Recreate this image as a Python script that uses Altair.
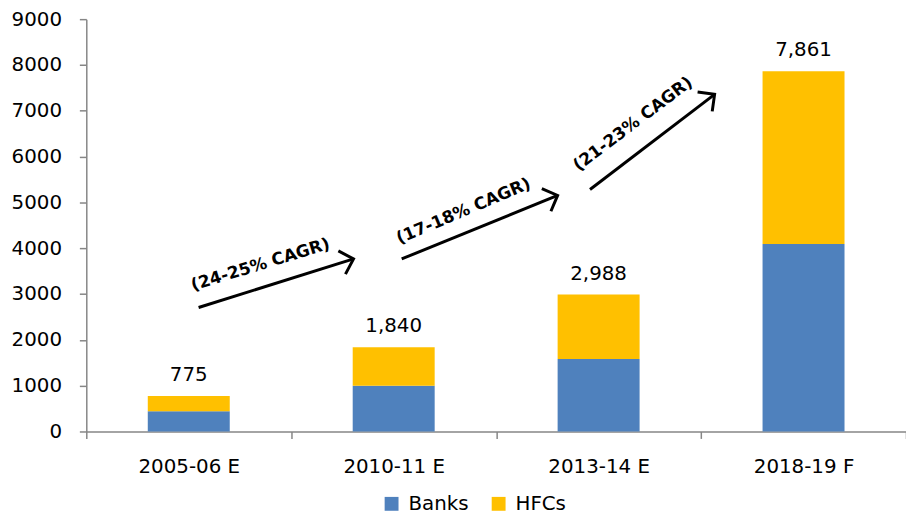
import altair as alt
import pandas as pd

FONT = "DejaVu Sans"

periods = ["2005-06 E", "2010-11 E", "2013-14 E", "2018-19 F"]
banks = [440, 1000, 1580, 4090]
hfcs = [335, 840, 1408, 3771]
totals = [775, 1840, 2988, 7861]
series = ["Banks", "HFCs"]
colors = ["#4F81BD", "#FFC000"]
y_ticks = list(range(0, 9001, 1000))

cagr_labels = ["(24-25% CAGR)", "(17-18% CAGR)", "(21-23% CAGR)"]
# annotation anchors in axis units (x: category steps from the left edge, y: Rs.bn)
arrow_x0 = [0.548, 1.539, 2.458]
arrow_y0 = [2706, 3766, 5281]
arrow_x1 = [1.304, 2.300, 3.066]
arrow_y1 = [3766, 5152, 7359]
arrow_angle = [343, 338, 323]
label_x = [0.850, 1.841, 2.668]
label_y = [3636, 4805, 6710]
label_angle = [343, 337, 323]

rows = []
for i, p in enumerate(periods):
    rows.append({"period": p, "series": "Banks", "value": banks[i], "order": 0})
    rows.append({"period": p, "series": "HFCs", "value": hfcs[i], "order": 1})
bar_df = pd.DataFrame(rows)
tot_df = pd.DataFrame({"period": periods, "total": totals})
arrow_df = pd.DataFrame({"x0": arrow_x0, "y0": arrow_y0, "x1": arrow_x1,
                         "y1": arrow_y1, "angle": arrow_angle})
label_df = pd.DataFrame({"lx": label_x, "ly": label_y, "label": cagr_labels,
                         "angle": label_angle})

ydom = alt.Scale(domain=[0, 9000], nice=False)
xband = alt.Scale(paddingInner=0, paddingOuter=0)
xq = alt.Scale(domain=[0, 4], nice=False, zero=False)
yaxis = alt.Axis(title=None, values=y_ticks, format="d", grid=False,
                 tickSize=7, labelPadding=18, labelFontSize=20,
                 labelFont=FONT, labelColor="black",
                 domainColor="#868686", tickColor="#868686",
                 domainWidth=1.5, tickWidth=1.5)

bars = alt.Chart(bar_df).mark_bar(width={"band": 0.4}).encode(
    x=alt.X("period:N", sort=periods, scale=xband,
            axis=alt.Axis(title=None, labelAngle=0, tickBand="extent", tickSize=7,
                          labelPadding=18, labelFontSize=20, labelFont=FONT,
                          labelColor="black", domainColor="#868686",
                          tickColor="#868686", domainWidth=1.5, tickWidth=1.5)),
    y=alt.Y("value:Q", stack="zero", scale=ydom, axis=yaxis),
    color=alt.Color("series:N", scale=alt.Scale(domain=series, range=colors),
                    legend=alt.Legend(orient="none", legendX=298, legendY=479,
                                      direction="horizontal", title=None,
                                      symbolType="square", symbolSize=196,
                                      symbolStrokeWidth=0, labelFontSize=20,
                                      labelFont=FONT, labelColor="black",
                                      columnPadding=20, labelOffset=7)),
    order=alt.Order("order:Q"),
)

tot_text = alt.Chart(tot_df).mark_text(
    dy=-15, baseline="alphabetic", fontSize=20, font=FONT, color="black"
).encode(
    x=alt.X("period:N", sort=periods, scale=xband, axis=None),
    y=alt.Y("total:Q", scale=ydom, axis=yaxis),
    text=alt.Text("total:Q", format=","),
)

shafts = alt.Chart(arrow_df).mark_rule(strokeWidth=3, color="black").encode(
    x=alt.X("x0:Q", scale=xq, axis=None),
    y=alt.Y("y0:Q", scale=ydom, axis=yaxis),
    x2="x1:Q",
    y2="y1:Q",
)

heads = alt.Chart(arrow_df).mark_point(
    shape="M -1 -1 L 0 0 L -1 1", filled=False, size=600, strokeWidth=3,
    color="black", opacity=1
).encode(
    x=alt.X("x1:Q", scale=xq, axis=None),
    y=alt.Y("y1:Q", scale=ydom, axis=yaxis),
    angle=alt.Angle("angle:Q", scale=None),
)

labels = alt.Chart(label_df).mark_text(
    font=FONT, fontWeight="bold", fontSize=17, align="center",
    baseline="middle", color="black"
).encode(
    x=alt.X("lx:Q", scale=xq, axis=None),
    y=alt.Y("ly:Q", scale=ydom, axis=yaxis),
    text="label:N",
    angle=alt.Angle("angle:Q", scale=None),
)

chart = alt.layer(bars, tot_text, shafts, heads, labels).resolve_scale(
    x="independent"
).properties(
    width=827, height=416,
    autosize=alt.AutoSizeParams(type="none"),
    padding={"left": 79, "top": 9, "right": 0, "bottom": 81},
).configure_view(stroke=None)

chart.save("out.html", embed_options={"renderer": "svg", "actions": False})
